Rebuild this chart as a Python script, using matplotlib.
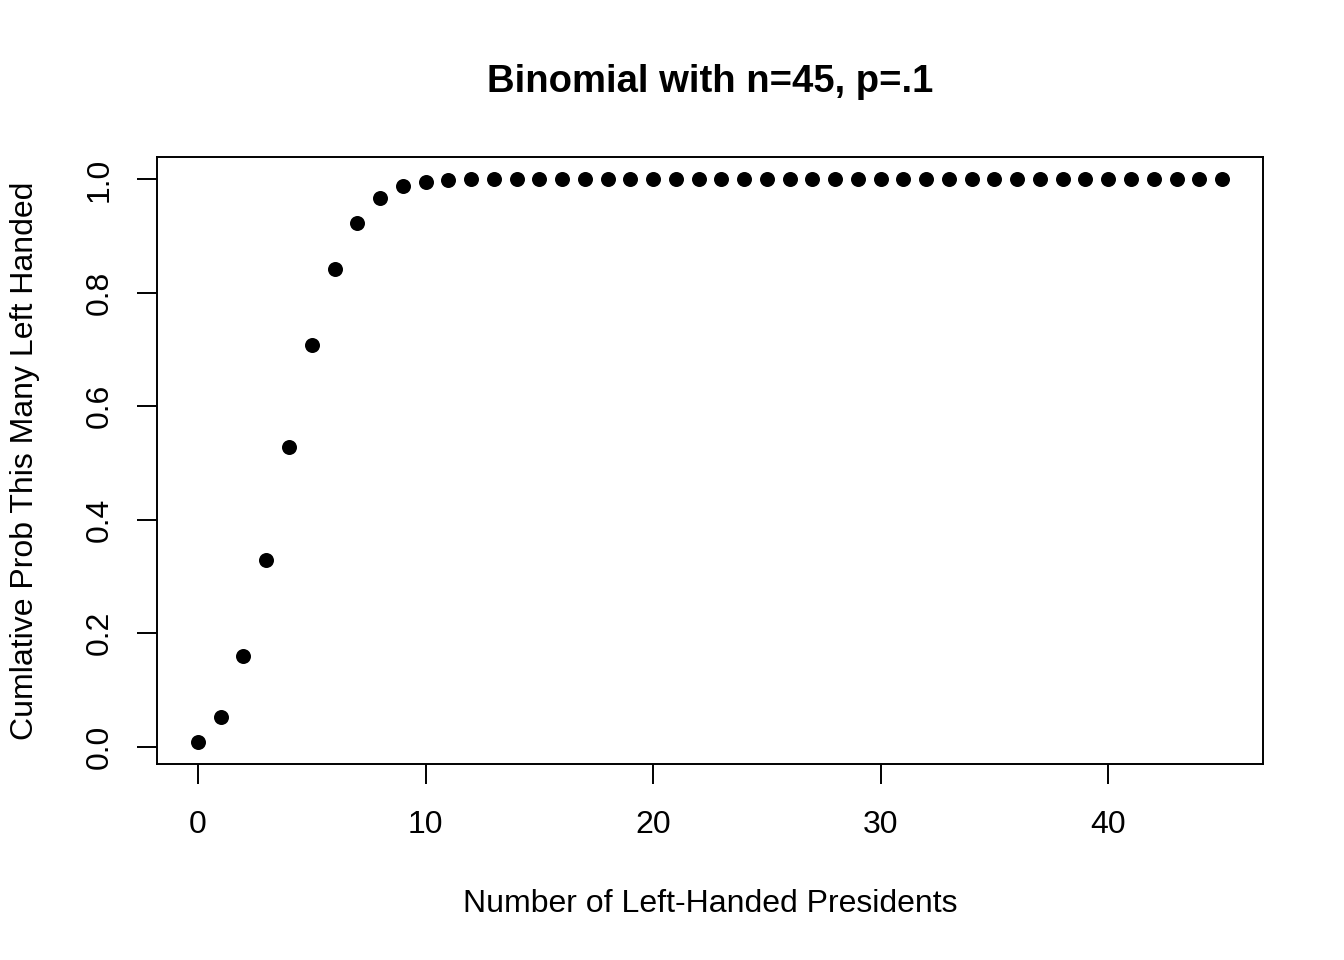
import numpy as np
import matplotlib
matplotlib.use('Agg')
import matplotlib.pyplot as plt

# values
n_left = list(range(0, 46))
cum_prob = [0.009, 0.052, 0.159, 0.329, 0.529, 0.708, 0.842, 0.924, 0.967, 0.988,
            0.996, 0.999, 1.0, 1.0, 1.0, 1.0, 1.0, 1.0, 1.0, 1.0,
            1.0, 1.0, 1.0, 1.0, 1.0, 1.0, 1.0, 1.0, 1.0, 1.0,
            1.0, 1.0, 1.0, 1.0, 1.0, 1.0, 1.0, 1.0, 1.0, 1.0,
            1.0, 1.0, 1.0, 1.0, 1.0, 1.0]
x_ticks = [0, 10, 20, 30, 40]
y_ticks = [0.0, 0.2, 0.4, 0.6, 0.8, 1.0]

plt.rcParams['font.family'] = ['Liberation Sans', 'DejaVu Sans']

fig = plt.figure(figsize=(13.44, 9.6), dpi=100)
ax = fig.add_axes([157/1344, 1-764/960, (1263-157)/1344, (764-157)/960])

ax.plot(n_left, cum_prob, 'o', color='black', markersize=10.8, markeredgewidth=0)

# R style 4% padding
xr = max(n_left) - min(n_left)
yr = max(cum_prob) - min(cum_prob)
ax.set_xlim(min(n_left) - 0.04*xr, max(n_left) + 0.04*xr)
ax.set_ylim(min(cum_prob) - 0.04*yr, max(cum_prob) + 0.04*yr)

ax.set_xticks(x_ticks)
ax.set_yticks(y_ticks)
ax.set_xticklabels([str(t) for t in x_ticks])
ax.set_yticklabels([f'{t:.1f}' for t in y_ticks], rotation=90, va='center')

for s in ax.spines.values():
    s.set_linewidth(1.4)
ax.tick_params(axis='both', direction='out', length=14.4, width=1.4, labelsize=23)
ax.tick_params(axis='x', pad=19)
ax.tick_params(axis='y', pad=16)

ax.set_xlabel('Number of Left-Handed Presidents', fontsize=23)
ax.xaxis.set_label_coords(0.5, (764-904)/607)
ax.xaxis.label.set_va('center')
ax.set_ylabel('Cumlative Prob This Many Left Handed', fontsize=23)
ax.yaxis.set_label_coords((25-157)/1106, 0.5)
ax.yaxis.label.set_va('center')

ax.set_title('Binomial with n=45, p=.1', fontsize=27.5, fontweight='bold',
             y=1+(157-90)/607, va='center')

fig.savefig('out.png', dpi=100)
